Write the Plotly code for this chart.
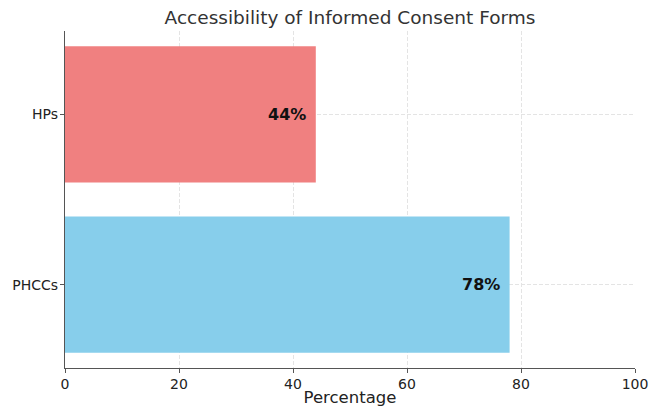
import plotly.graph_objects as go

categories = ["PHCCs", "HPs"]
percentages = [78, 44]
bar_colors = ["#87CEEB", "#F08080"]
x_ticks = [0, 20, 40, 60, 80, 100]

fig = go.Figure()
fig.add_trace(go.Bar(
    y=categories,
    x=percentages,
    orientation="h",
    width=0.8,
    marker=dict(color=bar_colors, line=dict(width=0)),
    hoverinfo="skip",
))

for cat, val in zip(categories, percentages):
    fig.add_annotation(
        x=val, y=cat, xref="x", yref="y",
        text=f"<b>{val}%</b>",
        xanchor="right", yanchor="middle", xshift=-8,
        showarrow=False,
        font=dict(family="DejaVu Sans", size=16, color="#111"),
    )

fig.update_layout(
    width=662, height=407,
    margin=dict(l=65, r=27, t=31, b=39),
    paper_bgcolor="white",
    plot_bgcolor="white",
    showlegend=False,
    font=dict(family="DejaVu Sans", size=14, color="#222"),
    title=dict(
        text="Accessibility of Informed Consent Forms",
        x=0.5, xref="paper", xanchor="center",
        y=1 - 18 / 407, yref="container", yanchor="middle",
        font=dict(family="DejaVu Sans", size=18.5, color="#333"),
    ),
    xaxis=dict(
        range=[0, 100],
        tickvals=x_ticks,
        showgrid=True, gridcolor="#e4e4e4", griddash="4px,2px", gridwidth=1,
        showline=True, linecolor="#555", linewidth=1.2,
        ticks="outside", ticklen=4, tickcolor="#555",
        zeroline=False, automargin=False,
        ticklabelstandoff=-1,
        title=dict(text="Percentage", font=dict(size=16.5, color="#222")),
        tickfont=dict(size=14, color="#222"),
    ),
    yaxis=dict(
        range=[-0.49, 1.49],
        categoryorder="array", categoryarray=categories,
        showgrid=True, gridcolor="#e4e4e4", griddash="4px,2px", gridwidth=1,
        showline=True, linecolor="#555", linewidth=1.2,
        ticks="outside", ticklen=4, tickcolor="#555",
        zeroline=False, automargin=False,
        ticklabelstandoff=-1,
        tickfont=dict(size=14, color="#222"),
    ),
)

fig.write_html("out.html")
